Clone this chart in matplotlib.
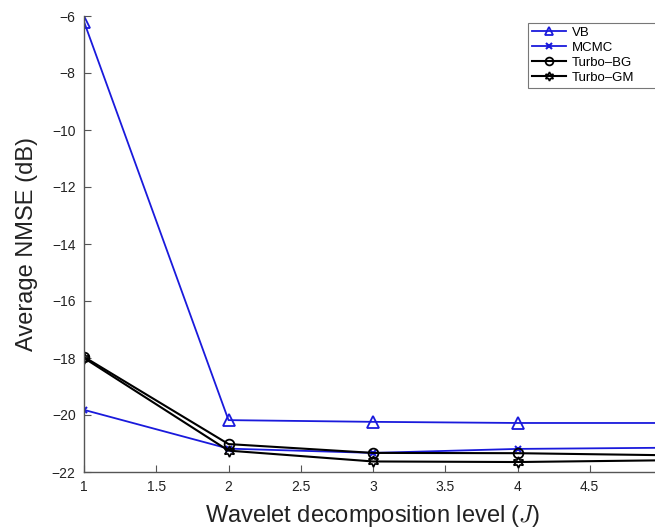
import numpy as np
import matplotlib.pyplot as plt

# wavelet decomposition levels
levels = [1, 2, 3, 4, 5]

# average NMSE (dB) per method
nmse_vb = [-6.2, -20.18, -20.24, -20.28, -20.28]
nmse_mcmc = [-19.82, -21.18, -21.33, -21.19, -21.15]
nmse_turbo_bg = [-17.96, -21.02, -21.33, -21.34, -21.41]
nmse_turbo_gm = [-18.0, -21.25, -21.63, -21.65, -21.59]

# x tick labels (5 falls outside the cropped picture)
xtick_labels = ['1', '1.5', '2', '2.5', '3', '3.5', '4', '4.5', '']

plt.rcParams['font.family'] = ['Liberation Sans', 'DejaVu Sans']
plt.rcParams['mathtext.fontset'] = 'cm'

fig = plt.figure(figsize=(6.55, 5.29), dpi=100)
# axes runs past the right edge of the picture (reference is cropped)
ax = fig.add_axes([84/655, 57/529, 578/655, 456/529])

blue = '#1a1adc'
ax.plot(levels, nmse_vb, '-^', color=blue, lw=1.3, ms=8, mfc='none', mew=1.3, label='VB')
ax.plot(levels, nmse_mcmc, '-x', color=blue, lw=1.3, ms=5, mew=1.5, label='MCMC')
ax.plot(levels, nmse_turbo_bg, '-o', color='black', lw=1.5, ms=7, mfc='none', mew=1.3, label='Turbo\u2013BG')
ax.plot(levels, nmse_turbo_gm, '-', marker=(6, 1, 0), color='black', lw=1.5, ms=8, mfc='none', mew=1.2, label='Turbo\u2013GM')

ax.set_xlim(1, 5)
ax.set_ylim(-22, -6)
ax.set_xticks(np.arange(1, 5.01, 0.5))
ax.set_xticklabels(xtick_labels)
ax.set_yticks(np.arange(-22, -5, 2))

for s in ['top', 'right']:
    ax.spines[s].set_visible(False)
for s in ['left', 'bottom']:
    ax.spines[s].set_color('#555555')
    ax.spines[s].set_linewidth(1.0)
ax.tick_params(direction='in', length=5, color='#555555', labelsize=10, labelcolor='#222222', pad=6)

ax.set_xlabel('Wavelet decomposition level ($J$)', fontsize=17, color='#222222', labelpad=6)
ax.set_ylabel('Average NMSE (dB)', fontsize=17, color='#222222', labelpad=10)

# legend box runs off the right edge like in the reference
leg = ax.legend(loc='upper left', bbox_to_anchor=(0.768, 0.5, 0.232, 0.485), mode='expand',
                borderaxespad=0, fontsize=9.5, frameon=True, fancybox=False, edgecolor='#555555',
                handlelength=2.6, labelspacing=0.2, borderpad=0.3, handletextpad=0.4, markerscale=0.8)
leg.get_frame().set_linewidth(0.8)

fig.savefig('out.png', dpi=100)
